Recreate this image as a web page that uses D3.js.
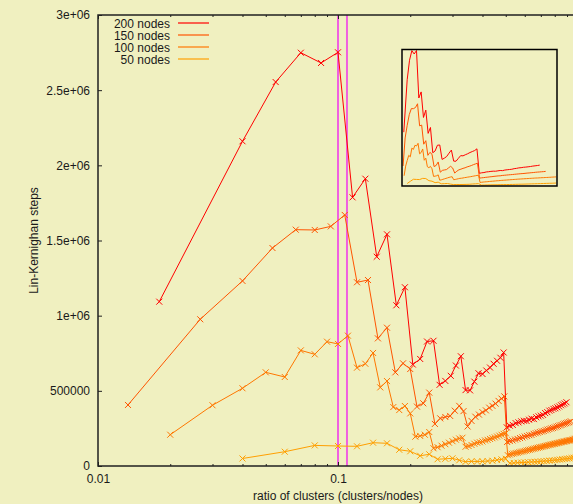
<!DOCTYPE html>
<html><head><meta charset="utf-8">
<script src="https://cdn.jsdelivr.net/npm/d3@7"></script>
<style>html,body{margin:0;padding:0;background:#f0f0c0;overflow:hidden}svg{display:block}</style>
</head><body><svg id="c" width="573" height="504"></svg>
<script>
// ---------- data ----------
const seriesNames = ["200 nodes", "150 nodes", "100 nodes", "50 nodes"];
const nodeCounts = [200, 150, 100, 50];

const clusters200 = [3.6, 8, 11, 14, 17, 20, 23, 26, 29, 32, 35, 38, 41, 44, 47, 50, 53, 56, 59, 62, 65, 68, 71, 74, 77, 80, 83, 86, 89, 92, 95, 98,
  101, 104, 107, 110, 113, 116, 119, 122, 125, 128, 131, 134, 137, 140, 143, 146, 149, 152, 155, 158, 161, 164, 167, 170, 173, 176, 179];
const steps200 = [1093000, 2160000, 2554000, 2749000, 2681000, 2752000, 1787000, 1911000, 1392000, 1541000, 1069000, 1189000,
  675000, 712000, 828000, 833000, 540000, 566000, 600000, 668000, 730000, 505000, 503000, 561000, 617000, 612000, 635000, 655000, 680000, 700000, 720000, 755000,
  257000, 268000, 273000, 285000, 290000, 297000, 301000, 300000, 308000, 315000, 312000, 324000, 330000, 335000, 340000, 352000, 358000, 368000,
  372000, 380000, 384000, 390000, 396000, 404000, 410000, 416000, 424000];

const clusters150 = [2, 4, 6, 8, 10, 12, 14, 16, 18, 20, 22, 24, 26, 28, 30, 32, 34, 36, 38, 40, 42, 44, 46, 48, 50, 52, 54, 56, 58, 60, 62, 64, 66, 68, 70, 72, 74,
  76, 78, 80, 82, 84, 86, 88, 90, 92, 94, 96, 98, 100, 102, 104, 106, 108, 110, 112, 114, 116, 118, 120, 122, 124, 126, 128, 130, 132, 134, 136, 138, 140];
const steps150 = [406000, 976000, 1231000, 1450000, 1572000, 1570000, 1594000, 1670000, 1222000, 1237000, 849000, 920000, 623000, 683000, 645000,
  395000, 417000, 488000, 280000, 317000, 326000, 333000, 368000, 400000, 365000, 263000, 300000, 328000, 342000, 358000, 370000, 388000, 400000,
  415000, 433000, 448000, 463000,
  160000, 166000, 170000, 176000, 180000, 186000, 190000, 196000, 200000, 205000, 207000, 214000, 218000, 222000, 226000, 230000, 233000, 238000,
  242000, 246000, 250000, 253000, 257000, 262000, 265000, 270000, 273000, 278000, 282000, 285000, 289000, 292000, 297000];

const clusters100 = [2, 3, 4, 5, 6, 7, 8, 9, 10, 11, 12, 13, 14, 15, 16, 17, 18, 19, 20, 21, 22, 23, 24, 25, 26, 27, 28, 29, 30, 31, 32, 33, 34, 35, 36, 37, 38, 39, 40,
  41, 42, 43, 44, 45, 46, 47, 48, 49, 50, 51, 52, 53, 54, 55, 56, 57, 58, 59, 60, 61, 62, 63, 64, 65, 66, 67, 68, 69, 70, 71, 72, 73, 74, 75, 76, 77, 78, 79, 80,
  81, 82, 83, 84, 85, 86, 87, 88, 89, 90, 91, 92, 93, 94, 95, 96, 97, 98, 99, 100];
const steps100 = [208000, 404000, 517000, 623000, 592000, 769000, 743000, 827000, 812000, 867000, 654000, 680000, 752000, 523000, 565000,
  392000, 372000, 399000, 350000, 195000, 200000, 208000, 226000, 118000, 125000, 135000, 145000, 155000, 165000, 175000, 183000, 188000,
  128000, 133000, 140000, 148000, 155000, 158000, 163000, 170000, 174000, 180000, 185000, 190000, 196000, 202000, 208000, 214000, 218000,
  72000, 76000, 80000, 83000, 86000, 88000, 92000, 95000, 97000, 100000, 103000, 106000, 108000, 111000, 114000, 116000, 119000, 121000,
  124000, 126000, 128000, 131000, 133000, 135000, 138000, 140000, 142000, 144000, 146000, 148000, 150000, 152000, 154000, 156000, 158000,
  160000, 162000, 163000, 165000, 167000, 169000, 170000, 172000, 173000, 175000, 177000, 179000, 181000, 183000, 185000];

const clusters50 = [2, 3, 4, 5, 6, 7, 8, 9, 10, 11, 12, 13, 14, 15, 16, 17, 18, 19, 20, 21, 22, 23, 24, 25, 26, 27, 28, 29, 30, 31, 32, 33, 34, 35, 36, 37, 38, 39, 40,
  41, 42, 43, 44, 45, 46, 47, 48, 49, 50];
const steps50 = [50000, 95000, 137000, 133000, 131000, 155000, 151000, 108000, 98000, 68000, 78000, 45000, 48000, 51000, 38000, 28000, 31000,
  30000, 31000, 33000, 35000, 40000, 44000, 48000, 18000, 20000, 22000, 23000, 24000, 25000, 27000, 28000, 29000, 31000, 32000, 34000, 36000,
  37000, 39000, 41000, 43000, 45000, 47000, 49000, 51000, 53000, 55000, 57000, 60000];

const xTickValues = [0.01, 0.1];
const xTickLabels = ["0.01", "0.1"];
const xMajorTicks = [0.01, 0.1, 1];
const xMinorTicks = [0.02, 0.03, 0.04, 0.05, 0.06, 0.07, 0.08, 0.09, 0.2, 0.3, 0.4, 0.5, 0.6, 0.7, 0.8, 0.9];
const yTickValues = [0, 500000, 1000000, 1500000, 2000000, 2500000, 3000000];
const yTickLabels = ["0", "500000", "1e+06", "1.5e+06", "2e+06", "2.5e+06", "3e+06"];
const markerRatios = [0.1, 0.109];

// ---------- style ----------
const colors = ["#ff0000", "#ff5500", "#ff7700", "#ff9f00"];
const FONT = "'Liberation Sans', Arial, Helvetica, sans-serif";
const W = 573, H = 504;
const L = 98, R = 578, T = 15, B = 466;

const svg = d3.select("#c");
svg.append("rect").attr("width", W).attr("height", H).attr("fill", "#f0f0c0");

const x = d3.scaleLog().domain([0.01, 1]).range([L, R]);
const y = d3.scaleLinear().domain([0, 3e6]).range([B, T]);

const clusterSets = [clusters200, clusters150, clusters100, clusters50];
const stepSets = [steps200, steps150, steps100, steps50];
const series = seriesNames.map((name, i) => ({
  name, color: colors[i],
  pts: clusterSets[i].map((c, j) => ({ r: c / nodeCounts[i], v: stepSets[i][j] }))
}));

const defs = svg.append("defs");
defs.append("clipPath").attr("id", "plotclip").append("rect")
  .attr("x", L).attr("y", T).attr("width", R - L).attr("height", B - T);

// magenta vertical lines
const plotG = svg.append("g").attr("clip-path", "url(#plotclip)");
plotG.selectAll("line.mark").data(markerRatios).enter().append("line")
  .attr("x1", d => x(d)).attr("x2", d => x(d)).attr("y1", T).attr("y2", B)
  .attr("stroke", "#f060e0").attr("stroke-width", 2);

const line = d3.line().x(d => x(d.r)).y(d => y(d.v));
series.forEach(s => {
  plotG.append("path").datum(s.pts).attr("d", line)
    .attr("fill", "none").attr("stroke", s.color).attr("stroke-width", 1);
  plotG.selectAll(null).data(s.pts).enter().append("path")
    .attr("transform", d => `translate(${x(d.r)},${y(d.v)})`)
    .attr("d", "M-3,-3L3,3M-3,3L3,-3")
    .attr("stroke", s.color).attr("stroke-width", 1).attr("fill", "none");
});

// axes
const axisColor = "#202020";
function styleAxis(g) {
  g.selectAll("path.domain").remove();
  g.selectAll("line").attr("stroke", axisColor).attr("stroke-width", 1);
  g.selectAll("text").attr("fill", "#1a1a1a").style("font-family", FONT).style("font-size", "12px");
}
const yAxis = d3.axisLeft(y).tickValues(yTickValues).tickFormat((d, i) => yTickLabels[i]).tickSizeInner(-4).tickSizeOuter(0).tickPadding(8);
svg.append("g").attr("transform", `translate(${L},0)`).call(yAxis).call(styleAxis);
const yAxisR = d3.axisRight(y).tickValues(yTickValues).tickFormat("").tickSizeInner(-4).tickSizeOuter(0);
svg.append("g").attr("transform", `translate(${R},0)`).call(yAxisR).call(styleAxis);

const xAxis = d3.axisBottom(x).tickValues(xTickValues).tickFormat((d, i) => xTickLabels[i]).tickSizeInner(-4).tickSizeOuter(0).tickPadding(8);
svg.append("g").attr("transform", `translate(0,${B})`).call(xAxis).call(styleAxis);
const xMajorB = d3.axisBottom(x).tickValues(xMajorTicks).tickFormat("").tickSizeInner(-4).tickSizeOuter(0);
svg.append("g").attr("transform", `translate(0,${B})`).call(xMajorB).call(styleAxis);
const xMinor = d3.axisBottom(x).tickValues(xMinorTicks).tickFormat("").tickSizeInner(-2).tickSizeOuter(0);
svg.append("g").attr("transform", `translate(0,${B})`).call(xMinor).call(styleAxis);
const xTop = d3.axisTop(x).tickValues(xMajorTicks).tickFormat("").tickSizeInner(-4).tickSizeOuter(0);
svg.append("g").attr("transform", `translate(0,${T})`).call(xTop).call(styleAxis);
const xTopMinor = d3.axisTop(x).tickValues(xMinorTicks).tickFormat("").tickSizeInner(-2).tickSizeOuter(0);
svg.append("g").attr("transform", `translate(0,${T})`).call(xTopMinor).call(styleAxis);

// border
svg.append("rect").attr("x", L).attr("y", T).attr("width", R - L).attr("height", B - T)
  .attr("fill", "none").attr("stroke", axisColor).attr("stroke-width", 1.5);

// axis labels
svg.append("text").attr("x", (L + R) / 2).attr("y", 500).attr("text-anchor", "middle")
  .style("font-family", FONT).style("font-size", "12px").attr("fill", "#1a1a1a")
  .text("ratio of clusters (clusters/nodes)");
svg.append("text").attr("transform", `translate(38,${(T + B) / 2}) rotate(-90)`).attr("text-anchor", "middle")
  .style("font-family", FONT).style("font-size", "12px").attr("fill", "#1a1a1a")
  .text("Lin-Kernighan steps");

// legend
series.forEach((s, i) => {
  const by = 28 + i * 12;
  svg.append("text").attr("x", 170).attr("y", by).attr("text-anchor", "end")
    .style("font-family", FONT).style("font-size", "12px").attr("fill", "#1a1a1a").text(s.name);
  svg.append("line").attr("x1", 178).attr("x2", 209).attr("y1", by - 5).attr("y2", by - 5)
    .attr("stroke", s.color).attr("stroke-width", 1.2);
});

// inset (linear scales, same data)
const IL = 402, IR = 557, IT = 49.5, IB = 186;
const xi = d3.scaleLinear().domain([0, 1]).range([401, 556]);
const yi = d3.scaleLinear().domain([0, 2752000]).range([IB, IT + 1]);
defs.append("clipPath").attr("id", "insetclip").append("rect")
  .attr("x", IL).attr("y", IT).attr("width", IR - IL).attr("height", IB - IT);
const insetG = svg.append("g").attr("clip-path", "url(#insetclip)");
const lineI = d3.line().x(d => xi(d.r)).y(d => yi(d.v));
series.forEach(s => {
  insetG.append("path").datum(s.pts).attr("d", lineI)
    .attr("fill", "none").attr("stroke", s.color).attr("stroke-width", 1);
});
svg.append("rect").attr("x", IL).attr("y", IT).attr("width", IR - IL).attr("height", IB - IT)
  .attr("fill", "none").attr("stroke", "#000").attr("stroke-width", 1.5);
</script></body></html>
